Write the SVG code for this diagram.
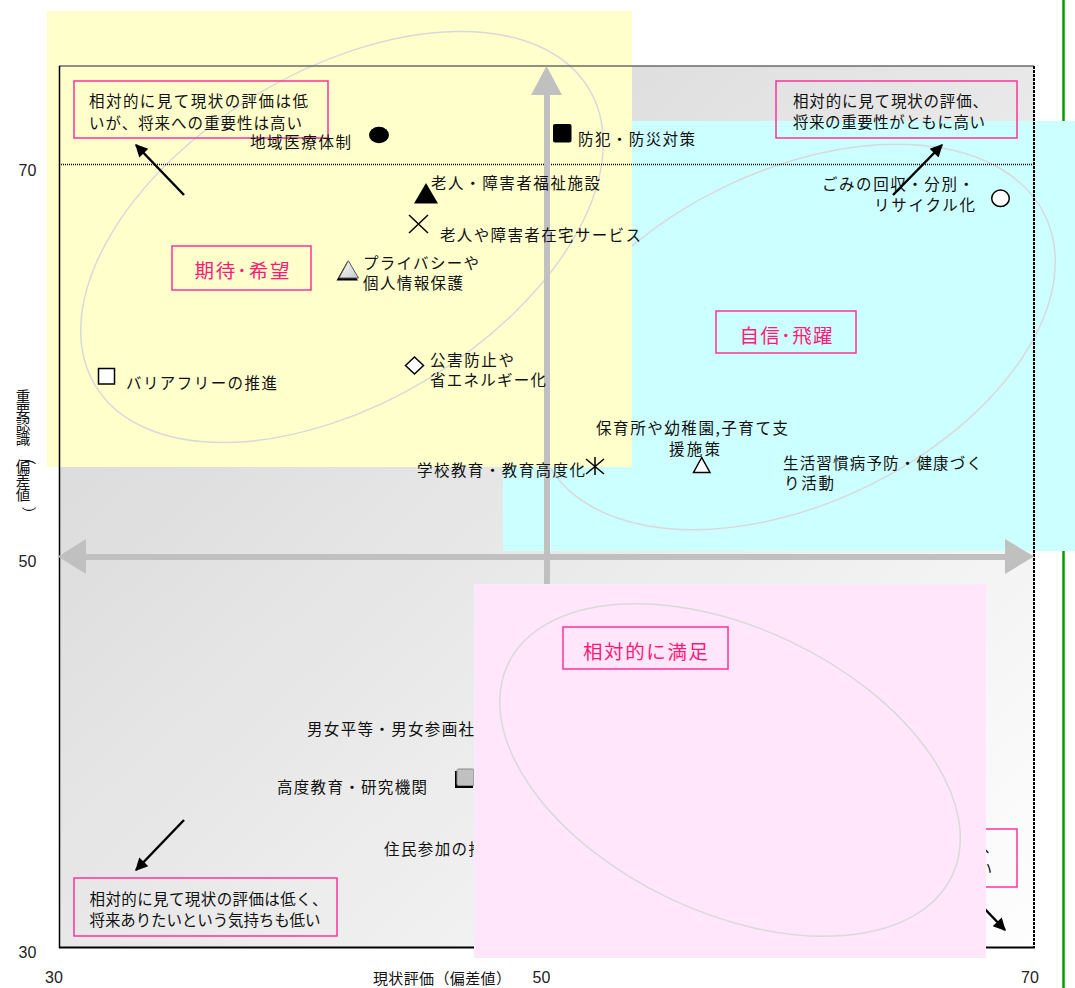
<svg xmlns="http://www.w3.org/2000/svg" width="1075" height="988" viewBox="0 0 1075 988">
<defs>
<style>
.t{font-family:'Noto Sans CJK JP','Noto Sans CJK SC',sans-serif;font-size:15.5px;fill:#111;dominant-baseline:central;}
.q{font-size:19.5px;fill:#ff1a78;text-anchor:middle;}
.s15{font-size:15px;}
.s14{font-size:14.5px;}
.n{font-family:'Liberation Sans',Arial,sans-serif;font-size:16px;fill:#222;dominant-baseline:central;text-anchor:middle;}
.box{fill:none;stroke:#ff3399;stroke-width:1.5;}
.ell{fill:none;stroke:#d9d9dc;stroke-width:1.5;}
.arr{fill:none;stroke:#000;stroke-width:2.5;marker-end:url(#ah);}
.mk{stroke:#000;stroke-width:1.5;}
.ax{fill:#c0c0c0;}
</style>
<linearGradient id="bg" x1="0" y1="0" x2="1" y2="1">
<stop offset="0" stop-color="#d2d2d2"/>
<stop offset="1" stop-color="#fefefe"/>
</linearGradient>
<linearGradient id="wt" x1="0" y1="0" x2="1" y2="1">
<stop offset="0" stop-color="#ffffff"/>
<stop offset="1" stop-color="#c8c8c8"/>
</linearGradient>
<marker id="ah" viewBox="0 0 10 10" refX="9" refY="5" markerWidth="6" markerHeight="5" orient="auto" markerUnits="strokeWidth">
<path d="M0,0 L10,5 L0,10 z" fill="#000"/>
</marker>
</defs>

<rect x="0" y="0" width="1075" height="988" fill="#fff"/>
<line x1="1063.5" y1="0" x2="1063.5" y2="988" stroke="#00a000" stroke-width="2.5"/>

<g id="plot-bg">
<rect x="59" y="66" width="975" height="882" fill="url(#bg)"/>
</g>

<g id="region-cyan">
<rect x="503" y="121" width="572" height="430" fill="#ccffff"/>
<ellipse class="ell" cx="795" cy="337" rx="278" ry="166" transform="rotate(-26 795 337)"/>
</g>

<g id="region-yellow">
<rect x="47" y="11" width="585" height="456" fill="#ffffcc"/>
<ellipse class="ell" cx="342" cy="237" rx="288" ry="166" transform="rotate(-31 342 237)"/>
</g>

<g id="frame">
<line x1="59" y1="66" x2="1034" y2="66" stroke="#6a6a6a" stroke-width="1.5"/>
<line x1="59.5" y1="66" x2="59.5" y2="948" stroke="#000" stroke-width="1.5"/>
<line x1="1034" y1="66" x2="1034" y2="948" stroke="#000" stroke-width="2" stroke-dasharray="3 1"/>
<line x1="59" y1="947.5" x2="1035" y2="947.5" stroke="#000" stroke-width="2"/>
<line x1="59" y1="164.5" x2="1034" y2="164.5" stroke="#000" stroke-width="1.5" stroke-dasharray="1 1"/>
</g>

<g id="axis-arrows">
<rect class="ax" x="544" y="94" width="6" height="854"/>
<polygon class="ax" points="546.5,66 531,95 562,95"/>
<rect class="ax" x="85" y="554" width="921" height="6"/>
<polygon class="ax" points="58,556.5 86,539 86,574"/>
<polygon class="ax" points="1034,556.5 1005,539 1005,574"/>
</g>

<g id="axis-labels">
<text class="n" x="27.5" y="170">70</text>
<text class="n" x="27.5" y="561">50</text>
<text class="n" x="27.5" y="952">30</text>
<text class="n" x="54" y="977">30</text>
<text class="n" x="541.5" y="977">50</text>
<text class="n" x="1030" y="977">70</text>
<text class="t s15" x="373" y="977" textLength="138" lengthAdjust="spacing">現状評価（偏差値）</text>
<text class="t s14" x="15.8 15.8 15.8 15.8 23 15.8 15.8 15.8 23" y="395 409 423 437 444 465 479 493 500" rotate="0 0 0 0 90 0 0 0 90">重要認識（偏差値）</text>
</g>

<g id="box-top-left">
<rect class="box" x="74" y="81" width="254" height="57"/>
<text class="t" x="89" y="100" textLength="219" lengthAdjust="spacing">相対的に見て現状の評価は低</text>
<text class="t" x="89" y="121.5" textLength="213" lengthAdjust="spacing">いが、将来への重要性は高い</text>
</g>

<g id="box-top-right">
<rect class="box" x="776" y="81" width="241" height="57"/>
<text class="t" x="793" y="100" textLength="195" lengthAdjust="spacing">相対的に見て現状の評価、</text>
<text class="t" x="793" y="121" textLength="192" lengthAdjust="spacing">将来の重要性がともに高い</text>
</g>

<g id="box-bottom-left">
<rect class="box" x="74" y="878" width="263" height="58"/>
<text class="t" x="89.5" y="897.5" textLength="238" lengthAdjust="spacing">相対的に見て現状の評価は低く、</text>
<text class="t" x="89.5" y="919" textLength="231" lengthAdjust="spacing">将来ありたいという気持ちも低い</text>
</g>

<g id="box-bottom-right">
<rect class="box" x="762" y="829" width="255" height="58"/>
<text class="t" x="999" y="845" text-anchor="end">が、</text>
<text class="t" x="992" y="868" text-anchor="end">い</text>
</g>

<g id="label-kitai">
<rect class="box" x="172" y="246" width="139" height="44"/>
<text class="t q" x="242" y="269" textLength="95" lengthAdjust="spacing">期待･希望</text>
</g>

<g id="label-jishin">
<rect class="box" x="716" y="311" width="140" height="42"/>
<text class="t q" x="786" y="334" textLength="93" lengthAdjust="spacing">自信･飛躍</text>
</g>

<g id="pt-chiiki-iryo">
<ellipse cx="379" cy="135" rx="10" ry="8.3" fill="#000"/>
<text class="t" x="250" y="141" textLength="101" lengthAdjust="spacing">地域医療体制</text>
</g>

<g id="pt-bohan">
<rect x="553" y="124" width="18.5" height="18.5" rx="2" fill="#000"/>
<text class="t" x="578" y="138" textLength="117" lengthAdjust="spacing">防犯・防災対策</text>
</g>

<g id="pt-fukushi-shisetsu">
<polygon points="426,183 414,203.5 438,203.5" fill="#000"/>
<text class="t" x="431" y="182" textLength="169" lengthAdjust="spacing">老人・障害者福祉施設</text>
</g>

<g id="pt-zaitaku">
<path class="mk" d="M409,215 L428,233 M409,233 L428,215" fill="none"/>
<text class="t" x="440" y="233.5" textLength="201" lengthAdjust="spacing">老人や障害者在宅サービス</text>
</g>

<g id="pt-privacy">
<polygon points="347,262 336.5,280.5 358,280.5" fill="#000"/>
<polygon points="348.3,260.7 339,278 358.5,278" fill="url(#wt)" stroke="#555" stroke-width="1"/>
<text class="t" x="363" y="261.5" textLength="116" lengthAdjust="spacing">プライバシーや</text>
<text class="t" x="363" y="282" textLength="100" lengthAdjust="spacing">個人情報保護</text>
</g>

<g id="pt-kogai">
<polygon class="mk" points="414.5,357 423.5,365.5 414.5,374 405.5,365.5" fill="#fff"/>
<text class="t" x="430" y="358.5" textLength="84" lengthAdjust="spacing">公害防止や</text>
<text class="t" x="430" y="379" textLength="116" lengthAdjust="spacing">省エネルギー化</text>
</g>

<g id="pt-barrierfree">
<rect class="mk" x="98.5" y="368.5" width="16" height="15.5" fill="#fff"/>
<text class="t" x="126" y="382" textLength="151" lengthAdjust="spacing">バリアフリーの推進</text>
</g>

<g id="pt-gakko">
<path class="mk" d="M595,457 L595,475 M586,459 L604,474 M586,474 L604,459" fill="none"/>
<text class="t" x="417" y="469" textLength="168" lengthAdjust="spacing">学校教育・教育高度化</text>
</g>

<g id="pt-hoiku">
<polygon class="mk" points="701.7,457.5 693.5,472.5 710,472.5" fill="#fff"/>
<text class="t" x="596" y="427" textLength="192" lengthAdjust="spacing">保育所や幼稚園,子育て支</text>
<text class="t" x="669" y="448" textLength="51" lengthAdjust="spacing">援施策</text>
</g>

<g id="pt-seikatsu">
<text class="t" x="783" y="462" textLength="199" lengthAdjust="spacing">生活習慣病予防・健康づく</text>
<text class="t" x="784" y="482" textLength="50" lengthAdjust="spacing">り活動</text>
</g>

<g id="pt-gomi">
<ellipse class="mk" cx="1000.5" cy="198.3" rx="8.8" ry="8.3" fill="#fff"/>
<text class="t" x="822" y="183" textLength="152" lengthAdjust="spacing">ごみの回収・分別・</text>
<text class="t" x="874" y="204" textLength="101" lengthAdjust="spacing">リサイクル化</text>
</g>

<g id="pt-danjo">
<text class="t" x="307" y="728" textLength="167" lengthAdjust="spacing">男女平等・男女参画社</text>
</g>

<g id="pt-kodo-kyoiku">
<rect x="455" y="771" width="18" height="17" fill="#000"/>
<rect x="457" y="769" width="17" height="16.5" rx="1.5" fill="#c0c0c0" stroke="#8a8a8a" stroke-width="1"/>
<text class="t" x="277" y="786" textLength="150" lengthAdjust="spacing">高度教育・研究機関</text>
</g>

<g id="pt-jumin">
<text class="t" x="384" y="848" textLength="100" lengthAdjust="spacing">住民参加の推</text>
</g>

<g id="connectors">
<line class="arr" x1="184" y1="195" x2="136" y2="145"/>
<line class="arr" x1="893" y1="195" x2="942" y2="145"/>
<line class="arr" x1="184" y1="820" x2="136" y2="870"/>
<line class="arr" x1="957" y1="880" x2="1005" y2="930"/>
</g>

<g id="region-pink">
<rect x="474" y="584" width="512" height="374" fill="#ffe6fb"/>
<ellipse class="ell" cx="730" cy="770" rx="246" ry="142" transform="rotate(25.5 730 770)"/>
</g>

<g id="label-manzoku">
<rect class="box" x="563" y="627" width="165" height="42"/>
<text class="t q" x="645.5" y="650" textLength="125" lengthAdjust="spacing">相対的に満足</text>
</g>
</svg>
